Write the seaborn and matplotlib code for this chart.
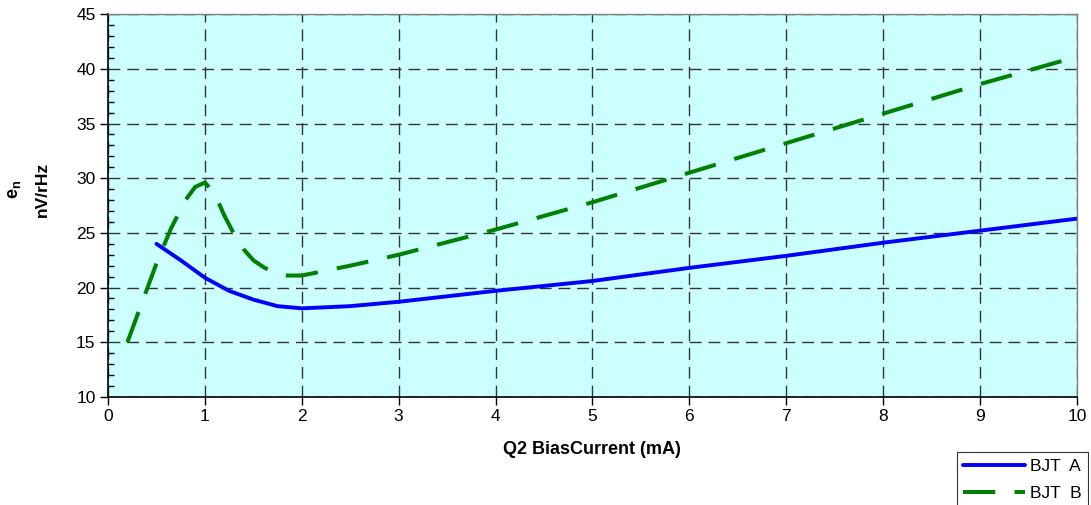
import matplotlib
matplotlib.use("Agg")
import matplotlib.pyplot as plt
import seaborn as sns
import pandas as pd
from matplotlib.ticker import MultipleLocator

# Data
bjt_a_x = [0.5, 0.75, 1.0, 1.25, 1.5, 1.75, 2.0, 2.5, 3.0, 4.0, 5.0, 6.0, 7.0, 8.0, 9.0, 10.0]
bjt_a_y = [24.0, 22.5, 20.9, 19.7, 18.9, 18.3, 18.1, 18.3, 18.7, 19.7, 20.6, 21.8, 22.9, 24.1, 25.2, 26.3]

bjt_b_x = [0.2, 0.35, 0.5, 0.65, 0.8, 0.9, 1.0, 1.1, 1.2, 1.3, 1.4, 1.5, 1.6, 1.7, 1.85, 2.0,
           2.5, 3.0, 4.0, 5.0, 6.0, 7.0, 8.0, 9.0, 10.0]
bjt_b_y = [15.0, 18.6, 22.2, 25.4, 28.0, 29.2, 29.6, 28.6, 26.6, 24.9, 23.5, 22.5, 21.9, 21.4, 21.1, 21.1,
           22.0, 23.0, 25.3, 27.8, 30.5, 33.2, 35.9, 38.6, 41.1]

series_names = ["BJT  A", "BJT  B"]
x_label = "Q2 BiasCurrent (mA)"
y_label_top = r"$\mathbf{e}_{\mathbf{n}}$"
y_label_bottom = "nV/rHz"

sns.set_theme(style="white")
plt.rcParams["font.family"] = ["Liberation Sans", "DejaVu Sans"]
plt.rcParams["mathtext.fontset"] = "custom"
plt.rcParams["mathtext.rm"] = "Liberation Sans"
plt.rcParams["mathtext.bf"] = "Liberation Sans:bold"
plt.rcParams["text.color"] = "black"
plt.rcParams["axes.labelcolor"] = "black"

fig = plt.figure(figsize=(10.91, 5.05), dpi=100)
ax = fig.add_axes([0.099, 0.214, 0.888, 0.758])
ax.set_facecolor("#CCFFFF")

df_a = pd.DataFrame({"x": bjt_a_x, "y": bjt_a_y})
df_b = pd.DataFrame({"x": bjt_b_x, "y": bjt_b_y})

sns.lineplot(data=df_a, x="x", y="y", ax=ax, color="#0000FF", linewidth=2.8,
             sort=False, label=series_names[0], legend=False)
sns.lineplot(data=df_b, x="x", y="y", ax=ax, color="#008000", linewidth=2.9,
             sort=False, label=series_names[1], legend=False)
ax.lines[1].set_dashes([8.0, 4.8])
ax.lines[1].set_dash_capstyle("butt")

ax.set_xlim(0, 10)
ax.set_ylim(10, 45)
ax.xaxis.set_major_locator(MultipleLocator(1))
ax.yaxis.set_major_locator(MultipleLocator(5))
ax.yaxis.set_minor_locator(MultipleLocator(1))
ax.grid(True, which="major", color="#333333", linestyle=(0, (8.5, 5.0)), linewidth=1.0)
ax.set_axisbelow(True)

ax.tick_params(axis="both", which="major", labelsize=12.5, length=6, width=1,
               direction="out", color="black", labelcolor="black",
               bottom=True, left=True, pad=3)
ax.tick_params(axis="y", which="minor", length=4, width=1, direction="in", left=True,
               color="black")

for side in ["left", "bottom"]:
    ax.spines[side].set_color("black")
    ax.spines[side].set_linewidth(1.2)
for side in ["top", "right"]:
    ax.spines[side].set_color("#808080")
    ax.spines[side].set_linewidth(1.0)

ax.set_xlabel(x_label, fontsize=13, fontweight="bold", labelpad=12, color="black")
ax.set_ylabel("")
fig.text(0.0137, 0.624, y_label_top, rotation=90, fontsize=13, fontweight="bold",
         ha="center", va="center", color="black")
fig.text(0.0385, 0.624, y_label_bottom, rotation=90, fontsize=12.5, fontweight="bold",
         ha="center", va="center", color="black")

handles, labels = ax.get_legend_handles_labels()
leg = fig.legend(handles, labels, loc="upper right", bbox_to_anchor=(0.9973, 0.104),
                 fontsize=12.5, frameon=True, fancybox=False, handlelength=3.6,
                 borderpad=0.35, labelspacing=0.7, handletextpad=0.3, borderaxespad=0,
                 labelcolor="black")
leg.get_frame().set_edgecolor("black")
leg.get_frame().set_linewidth(0.8)

fig.savefig("out.png", dpi=100, facecolor="white")
